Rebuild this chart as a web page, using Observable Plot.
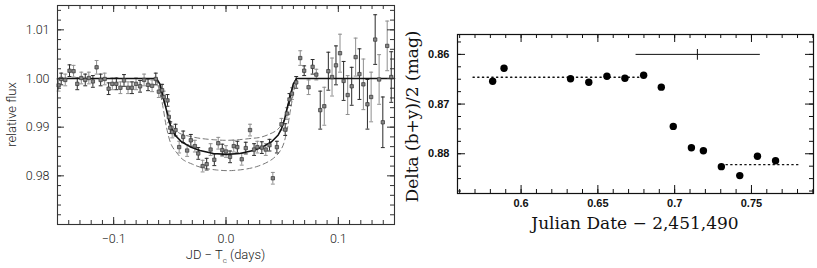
<!DOCTYPE html>
<html><head><meta charset="utf-8">
<script src="https://cdn.jsdelivr.net/npm/d3@7"></script>
<script src="https://cdn.jsdelivr.net/npm/@observablehq/plot@0.6"></script>
<style>
body{margin:0;background:#fff;}
#wrap{position:relative;width:817px;height:268px;overflow:hidden;background:#fff;}
#left{position:absolute;left:0;top:0;}
#right{position:absolute;left:400px;top:0;}
</style></head><body><div id="wrap"><div id="left"></div><div id="right"></div></div>
<script>
// ---------- Left panel data: relative flux vs JD - Tc ----------
const fluxT = [-0.149,-0.1467,-0.1431,-0.1393,-0.1357,-0.1324,-0.1288,-0.1253,-0.1221,-0.1185,-0.1152,-0.1116,-0.1080,-0.1045,-0.1012,-0.0976,-0.0940,-0.0908,-0.0872,-0.0837,-0.0801,-0.0765,-0.0729,-0.0694,-0.0658,-0.0625,
 -0.0598,-0.0569,-0.0554,-0.0521,-0.0509,-0.0496,-0.0479,-0.0449,-0.0417,-0.0381,-0.0346,-0.0313,-0.0277,-0.0247,-0.0208,-0.0172,-0.0137,-0.0104,-0.0069,-0.0033,0.0,0.0036,0.0069,0.0101,0.0140,0.0176,0.0214,0.0250,0.0279,0.0319,0.0354,0.0387,0.0417,0.0453,0.0494,0.0527,0.0542,0.0565,0.0587,0.0625,
 0.0661,0.0696,0.0735,0.0771,0.0804,0.0839,0.0875,0.0911,0.0944,0.0979,0.1015,0.1047,0.1083,0.1119,0.1154,0.1188,0.1223,0.1259,0.1292,0.1328,0.1363,0.1396,0.1435,0.1471];
const flux = [0.9986,0.9999,0.9997,1.0016,1.0015,0.9989,1.0001,0.9997,1.0001,0.9994,1.0023,0.9997,0.9999,0.9979,0.9989,0.9989,0.9981,0.9996,0.9981,0.9981,0.9989,0.9984,0.9997,0.9987,0.9985,0.9999,
 0.9973,0.9976,0.9962,0.9955,0.9921,0.9899,0.9890,0.9894,0.9859,0.9880,0.9852,0.9873,0.9861,0.9846,0.9820,0.9824,0.9854,0.9833,0.9867,0.9853,0.9850,0.9839,0.9861,0.9859,0.9834,0.9857,0.9894,0.9854,0.9859,0.9858,0.9854,0.9863,0.9795,0.9859,0.9906,0.9895,0.9928,0.9957,0.9969,0.9992,
 1.0042,1.0016,0.9982,1.0024,1.0008,0.9935,0.9943,1.0015,1.0003,1.0027,1.0052,0.9995,0.9966,0.9984,1.0044,1.0009,0.9988,0.9947,0.9962,1.0080,0.9998,0.9910,1.0067,1.0003];
const fluxErr = [0.0012,0.0012,0.0012,0.0012,0.0012,0.0012,0.0012,0.0012,0.0012,0.0012,0.0014,0.0012,0.0012,0.0012,0.0012,0.0012,0.0012,0.0012,0.0012,0.0012,0.0012,0.0012,0.0012,0.0012,0.0012,0.0012,
 0.0012,0.0012,0.0012,0.0012,0.0012,0.0012,0.0012,0.0012,0.0012,0.0012,0.0012,0.0012,0.0012,0.0012,0.0012,0.0012,0.0012,0.0012,0.0012,0.0012,0.0012,0.0012,0.0012,0.0012,0.0012,0.0012,0.0012,0.0012,0.0012,0.0012,0.0012,0.0012,0.0012,0.0012,0.0012,0.0012,0.0012,0.0012,0.0012,0.0012,
 0.0015,0.0010,0.0015,0.0015,0.0011,0.0039,0.0039,0.0039,0.0039,0.0040,0.0039,0.0040,0.0040,0.0039,0.0039,0.0052,0.0052,0.0051,0.0051,0.0051,0.0051,0.0052,0.0051,0.0052];
// model (solid) and envelope (dashed) curves
const modelT = [-0.15,-0.0619,-0.0589,-0.056,-0.053,-0.0509,-0.0485,-0.0455,-0.0396,-0.0321,-0.0232,-0.0113,0.0005,0.0123,0.0242,0.0331,0.0406,0.0465,0.0495,0.0519,0.054,0.057,0.0599,0.0629,0.15];
const modelF = [1.0,1.0,0.9989,0.9962,0.9935,0.9914,0.9897,0.9884,0.9870,0.9860,0.9852,0.9846,0.9844,0.9846,0.9852,0.9860,0.9870,0.9884,0.9897,0.9914,0.9935,0.9962,0.9989,1.0,1.0];
const upperT = [-0.0625,-0.058,-0.054,-0.050,-0.046,-0.041,-0.032,-0.023,-0.010,0.0,0.010,0.023,0.0304,0.039,0.0453,0.0512,0.055,0.059,0.0625];
const upperF = [1.0,0.9975,0.9945,0.9915,0.9897,0.9887,0.9881,0.9877,0.9874,0.9873,0.9874,0.9877,0.9879,0.9886,0.9894,0.9911,0.9945,0.9975,1.0];
const lowerT = [-0.0625,-0.059,-0.056,-0.053,-0.0485,-0.043,-0.0381,-0.030,-0.0232,-0.0083,0.0065,0.0274,0.0422,0.0497,0.054,0.057,0.060,0.0625];
const lowerF = [1.0,0.9975,0.9940,0.9900,0.9863,0.9845,0.9833,0.9824,0.9818,0.9812,0.9811,0.9819,0.9836,0.9857,0.9890,0.9930,0.9970,1.0];
const leftXTicks = [-0.1, 0.0, 0.1];
const leftXTickLabels = ["\u22120.1", "0.0", "0.1"];
const leftYTicks = [0.98, 0.99, 1.00, 1.01];
const leftYTickLabels = ["0.98", "0.99", "1.00", "1.01"];

// ---------- Right panel data: Delta (b+y)/2 vs Julian Date ----------
const jd   = [0.5815,0.5889,0.6322,0.6441,0.6559,0.6676,0.6798,0.6913,0.6991,0.7109,0.7187,0.7304,0.7424,0.7539,0.7657];
const dmag = [0.8654,0.8628,0.8649,0.8656,0.8644,0.8648,0.8642,0.8666,0.8745,0.8788,0.8794,0.8826,0.8844,0.8805,0.8814];
const preLevelX = [0.5687, 0.6796], preLevelY = [0.8646, 0.8646];
const inLevelX = [0.7304, 0.7810], inLevelY = [0.8822, 0.8822];
const ebarX = [0.6748, 0.7552], ebarY = [0.86, 0.86];
const ebarCenterX = [0.7148, 0.7148], ebarCenterY = [0.859, 0.861];
const rightXTicks = [0.6, 0.65, 0.7, 0.75];
const rightXTickLabels = ["0.6", "0.65", "0.7", "0.75"];
const rightYTicks = [0.86, 0.87, 0.88];
const rightYTickLabels = ["0.86", "0.87", "0.88"];

// ---------- helpers ----------
const capSymbol = {draw(ctx, size){ const w = Math.sqrt(size); ctx.moveTo(-w,0); ctx.lineTo(w,0); }};
function frameTicks(xs, ys, innerW, innerH, len, stroke, sw){
  return [
    Plot.tickX(xs, {x: d=>d, insetBottom: innerH-len, stroke, strokeWidth: sw}),
    Plot.tickX(xs, {x: d=>d, insetTop: innerH-len, stroke, strokeWidth: sw}),
    Plot.tickY(ys, {y: d=>d, insetRight: innerW-len, stroke, strokeWidth: sw}),
    Plot.tickY(ys, {y: d=>d, insetLeft: innerW-len, stroke, strokeWidth: sw})
  ];
}

// ---------- Left plot ----------
{
  const W=400, H=268, mL=57, mR=6, mT=5, mB=44;
  const iW=W-mL-mR, iH=H-mT-mB;
  const idx = d3.range(fluxT.length);
  const xMinor = d3.range(-14, 15).map(i => i/100);
  const yMinor = d3.range(486, 508).map(i => i/500);
  const font = "Roboto, 'Liberation Sans', sans-serif";
  const col = i => (i % 2 ? "#2a2a2a" : "#8f8f8f");
  const fmtX = new Map(leftXTicks.map((v,i)=>[v, leftXTickLabels[i]]));
  const fmtY = new Map(leftYTicks.map((v,i)=>[v, leftYTickLabels[i]]));
  const p = Plot.plot({
    width: W, height: H, marginLeft: mL, marginRight: mR, marginTop: mT, marginBottom: mB,
    x: {domain: [-0.15, 0.15]},
    y: {domain: [0.970, 1.015]},
    style: {background: "transparent", overflow: "visible"},
    marks: [
      Plot.line(upperT.map((t,i)=>[t, upperF[i]]), {x: d=>d[0], y: d=>d[1], stroke: "#777", strokeWidth: 1, strokeDasharray: "5,3.5", curve: "catmull-rom"}),
      Plot.line(lowerT.map((t,i)=>[t, lowerF[i]]), {x: d=>d[0], y: d=>d[1], stroke: "#777", strokeWidth: 1, strokeDasharray: "5,3.5", curve: "catmull-rom"}),
      Plot.ruleX(idx, {x: i=>fluxT[i], y1: i=>flux[i]-fluxErr[i], y2: i=>flux[i]+fluxErr[i], stroke: col, strokeWidth: 1}),
      Plot.dot(idx, {x: i=>fluxT[i], y: i=>flux[i]-fluxErr[i], symbol: capSymbol, r: 1.1, stroke: col, strokeWidth: 1, fill: "none"}),
      Plot.dot(idx, {x: i=>fluxT[i], y: i=>flux[i]+fluxErr[i], symbol: capSymbol, r: 1.1, stroke: col, strokeWidth: 1, fill: "none"}),
      Plot.line(modelT.map((t,i)=>[t, modelF[i]]), {x: d=>d[0], y: d=>d[1], stroke: "#111", strokeWidth: 1.6}),
      Plot.dot(idx, {x: i=>fluxT[i], y: i=>flux[i], symbol: "square", r: 1.9, fill: "#858585", stroke: "#333", strokeWidth: 0.7}),
      ...frameTicks(xMinor, yMinor, iW, iH, 4, "#333", 1),
      ...frameTicks(leftXTicks, leftYTicks, iW, iH, 7, "#333", 1),
      Plot.frame({stroke: "#333", strokeWidth: 1.1}),
      Plot.axisX(leftXTicks, {tickSize: 0, tickPadding: 10, label: null, tickFormat: d=>fmtX.get(d), fontSize: 12.5, fontFamily: font, fontWeight: 300, fill: "#222"}),
      Plot.axisY(leftYTicks, {tickSize: 0, tickPadding: 8, label: null, tickFormat: d=>fmtY.get(d), fontSize: 12.5, fontFamily: font, fontWeight: 300, fill: "#222"})
    ]
  });
  document.getElementById("left").appendChild(p);
  const svg = d3.select(p);
  svg.append("text").attr("transform", `translate(16,${mT+iH/2}) rotate(-90)`)
    .attr("text-anchor","middle").attr("font-family", font).attr("font-weight",300).attr("font-size",13).attr("fill","#222")
    .text("relative flux");
  const t = svg.append("text").attr("x", mL+iW/2).attr("y", 259).attr("text-anchor","middle")
    .attr("font-family", font).attr("font-weight",300).attr("font-size",13).attr("fill","#222");
  t.append("tspan").text("JD \u2212 T");
  t.append("tspan").attr("dy", 4).attr("font-size", 8).text("c");
  t.append("tspan").attr("dy", -4).text(" (days)");
}

// ---------- Right plot ----------
{
  const W=417, H=268, mL=57, mR=4, mT=34, mB=75;
  const iW=W-mL-mR, iH=H-mT-mB;
  const idx = d3.range(jd.length);
  const xMinor = d3.range(56, 80).map(i => i/100);
  const yMinor = d3.range(343, 356).map(i => i/400);
  const tickFont = "'Liberation Sans', Arial, sans-serif";
  const titleFont = "'DejaVu Serif', 'Liberation Serif', serif";
  const fmtX = new Map(rightXTicks.map((v,i)=>[v, rightXTickLabels[i]]));
  const fmtY = new Map(rightYTicks.map((v,i)=>[v, rightYTickLabels[i]]));
  const p = Plot.plot({
    width: W, height: H, marginLeft: mL, marginRight: mR, marginTop: mT, marginBottom: mB,
    x: {domain: [0.5586, 0.7904]},
    y: {domain: [0.856, 0.888], reverse: true},
    style: {background: "transparent", overflow: "visible"},
    marks: [
      Plot.line(preLevelX.map((x,i)=>[x, preLevelY[i]]), {x: d=>d[0], y: d=>d[1], stroke: "#111", strokeWidth: 1.3, strokeDasharray: "1.3,3.4"}),
      Plot.line(inLevelX.map((x,i)=>[x, inLevelY[i]]), {x: d=>d[0], y: d=>d[1], stroke: "#111", strokeWidth: 1.3, strokeDasharray: "1.3,3.4"}),
      Plot.line(ebarX.map((x,i)=>[x, ebarY[i]]), {x: d=>d[0], y: d=>d[1], stroke: "#111", strokeWidth: 1}),
      Plot.line(ebarCenterX.map((x,i)=>[x, ebarCenterY[i]]), {x: d=>d[0], y: d=>d[1], stroke: "#111", strokeWidth: 1}),
      Plot.dot(idx, {x: i=>jd[i], y: i=>dmag[i], r: 3.7, fill: "#000", stroke: "none"}),
      ...frameTicks(xMinor, yMinor, iW, iH, 4, "#111", 1),
      ...frameTicks(rightXTicks, rightYTicks, iW, iH, 8, "#111", 1),
      Plot.frame({stroke: "#111", strokeWidth: 1.2}),
      Plot.axisX(rightXTicks, {tickSize: 0, tickPadding: 6, label: null, tickFormat: d=>fmtX.get(d), fontSize: 11, fontFamily: tickFont, fontWeight: "bold", fill: "#111"}),
      Plot.axisY(rightYTicks, {tickSize: 0, tickPadding: 8, label: null, tickFormat: d=>fmtY.get(d), fontSize: 11, fontFamily: tickFont, fontWeight: "bold", fill: "#111"})
    ]
  });
  document.getElementById("right").appendChild(p);
  const svg = d3.select(p);
  svg.append("text").attr("transform", `translate(18,${mT+iH/2 + 3}) rotate(-90)`)
    .attr("text-anchor","middle").attr("font-family", titleFont).attr("font-size",17).attr("fill","#111")
    .text("Delta (b+y)/2 (mag)");
  svg.append("text").attr("x", mL+iW/2).attr("y", 229).attr("text-anchor","middle")
    .attr("font-family", titleFont).attr("font-size",17).attr("fill","#111")
    .text("Julian Date \u2212 2,451,490");
}
</script>
</body></html>
